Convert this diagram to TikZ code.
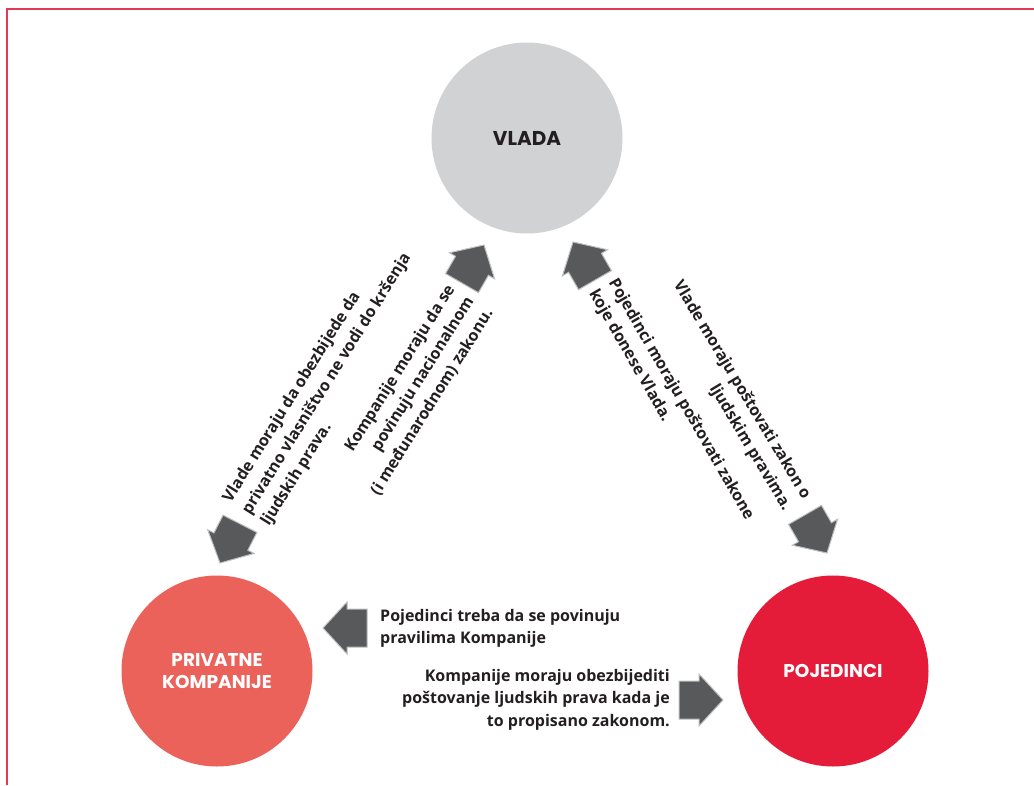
\documentclass[tikz,border=0pt]{standalone}
\usepackage{fontspec}
\setmainfont{Open Sans}
\newfontfamily\circfont{Poppins}
\definecolor{bordercol}{HTML}{E23A55}
\definecolor{vladacol}{HTML}{D1D2D4}
\definecolor{privcol}{HTML}{EB625A}
\definecolor{pojcol}{HTML}{E41B39}
\definecolor{arrowcol}{HTML}{58595B}
\definecolor{arrowedge}{HTML}{BCBEC0}
\definecolor{textcol}{HTML}{231F20}
\tikzset{
  bigcircle/.style={circle, minimum size=191pt, inner sep=0pt},
  circlabel/.style={font=\circfont\bfseries\fontsize{18.5}{22}\selectfont, align=center},
  bodytext/.style={font=\bfseries\fontsize{16}{22.5}\selectfont, text=textcol, inner sep=0pt},
  blockarr/.pic={
    \fill[arrowcol, draw=arrowedge, line width=1pt, line join=miter]
      (0,0) -- (-24,26) -- (-24,19) -- (-44,19) -- (-44,-19) -- (-24,-19) -- (-24,-26) -- cycle;
  }
}
\begin{document}
\begin{tikzpicture}[x=1pt,y=-1pt]
\useasboundingbox[fill=white] (0,0) rectangle (1034,785);
\draw[bordercol, line width=1.8pt] (7,785) -- (7,9) -- (1034,9);

% circles
\node[bigcircle, fill=vladacol, circlabel, font=\circfont\bfseries\fontsize{20}{22}\selectfont, text=textcol] (vlada) at (527,138) {VLADA};
\node[bigcircle, fill=privcol, circlabel, text=white] (priv) at (217,671) {PRIVATNE\\KOMPANIJE};
\node[bigcircle, fill=pojcol, circlabel, text=white] (poj) at (833,671) {POJEDINCI};

% block arrows
\pic[rotate=60] (a1) at (484,245) {blockarr};
\pic[rotate=243] (a2) at (220,563) {blockarr};
\pic[rotate=120] (a3) at (573,242) {blockarr};
\pic[rotate=-60] (a4) at (827,553) {blockarr};
\pic[rotate=180] (a5) at (323,628) {blockarr};
\pic (a6) at (723,700) {blockarr};

% diagonal texts
\node[bodytext, rotate=58, align=left] (t1) at (327,384)
  {Vlade moraju da obezbijede da\\privatno vlasništvo ne vodi do kršenja\\ljudskih prava.};
\node[bodytext, rotate=58, align=right] (t2) at (413,390)
  {Kompanije moraju da se\\povinuju nacionalnom\\(i međunarodnom) zakonu.};
\node[bodytext, rotate=-60, align=left] (t3) at (671,405)
  {Pojedinci moraju poštovati zakone\\koje donese Vlada.};
\node[bodytext, rotate=-59, align=right] (t4) at (732,396)
  {Vlade moraju poštovati zakon o\\ljudskim pravima.};

% bottom texts
\node[bodytext, anchor=north west, align=left] (t5) at (380,609)
  {Pojedinci treba da se povinuju\\pravilima Kompanije};
\node[bodytext, anchor=north east, align=right] (t6) at (670,669)
  {Kompanije moraju obezbijediti\\poštovanje ljudskih prava kada je\\to propisano zakonom.};
\end{tikzpicture}
\end{document}
